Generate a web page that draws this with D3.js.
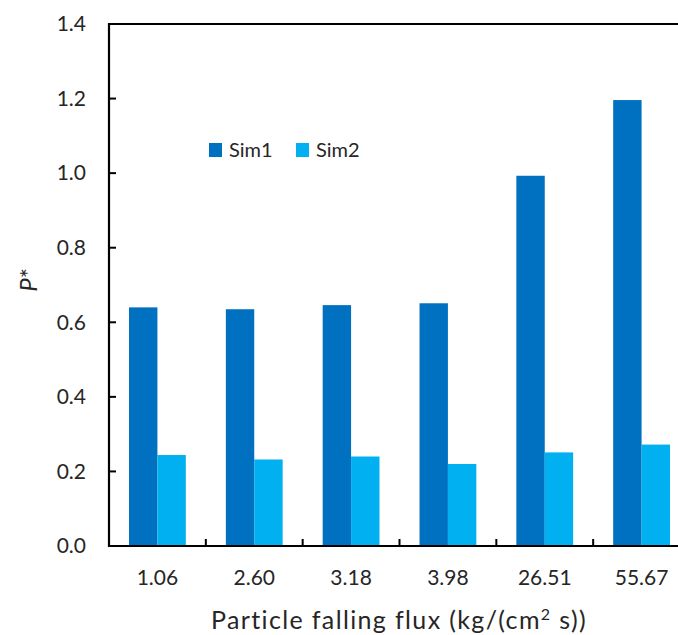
<!DOCTYPE html>
<html>
<head>
<meta charset="utf-8">
<script src="https://cdn.jsdelivr.net/npm/d3@7"></script>
<style>
  html, body { margin: 0; padding: 0; background: #fff; }
  svg { display: block; }
  text { font-family: Lato, "Open Sans", sans-serif; fill: #262626; }
</style>
</head>
<body>
<svg id="chart" width="678" height="635"></svg>
<script>
// Particle falling flux categories and P* values per simulation
const categories = ["1.06", "2.60", "3.18", "3.98", "26.51", "55.67"];
const seriesNames = ["Sim1", "Sim2"];
const sim1 = [0.640, 0.635, 0.646, 0.651, 0.993, 1.196];
const sim2 = [0.244, 0.232, 0.240, 0.220, 0.251, 0.272];
const yTicks = [0.0, 0.2, 0.4, 0.6, 0.8, 1.0, 1.2, 1.4];
const colors = ["#0070C0", "#00B0F0"];

const svg = d3.select("#chart");
const margin = { left: 109, top: 24, right: -12, bottom: 89 };
const W = 678, H = 635;
const x0 = margin.left, x1 = W - margin.right;
const y0 = H - margin.bottom, y1 = margin.top;
const FONT = "Lato, 'Open Sans', sans-serif";

const x = d3.scaleBand().domain(categories).range([x0, x1]).paddingInner(0).paddingOuter(0);
const xs = d3.scaleBand().domain(seriesNames).range([0, x.bandwidth()]).paddingInner(0).paddingOuter(0.705);
const y = d3.scaleLinear().domain([0, 1.4]).range([y0, y1]);

const rows = categories.map((c, i) => ({ cat: c, vals: [sim1[i], sim2[i]] }));

// bars
const g = svg.append("g");
rows.forEach(r => {
  g.selectAll(null)
    .data(r.vals.map((v, j) => ({ name: seriesNames[j], v, j })))
    .join("rect")
    .attr("x", d => x(r.cat) + xs(d.name))
    .attr("width", xs.bandwidth())
    .attr("y", d => y(d.v))
    .attr("height", d => y(0) - y(d.v))
    .attr("fill", d => colors[d.j]);
});

// y axis: ticks inward, labels on the left
const yAxis = d3.axisLeft(y).tickValues(yTicks).tickFormat(d3.format(".1f")).tickSize(0).tickPadding(23);
const ya = svg.append("g").attr("transform", `translate(${x0},0)`).call(yAxis);
ya.select(".domain").remove();
ya.selectAll("text").attr("font-size", 21).attr("fill", "#262626").attr("font-family", FONT);
svg.append("g").selectAll("line").data(yTicks.filter(t => t > 0 && t < 1.4)).join("line")
  .attr("x1", x0).attr("x2", x0 + 7)
  .attr("y1", d => y(d)).attr("y2", d => y(d))
  .attr("stroke", "#000").attr("stroke-width", 2);

// x axis: labels centered under categories, ticks at boundaries pointing up
const xAxis = d3.axisBottom(x).tickSize(0).tickPadding(24);
const xa = svg.append("g").attr("transform", `translate(0,${y0})`).call(xAxis);
xa.select(".domain").remove();
xa.selectAll("text").attr("font-size", 21).attr("fill", "#262626").attr("font-family", FONT);
svg.append("g").selectAll("line").data(categories.slice(1)).join("line")
  .attr("x1", d => x(d)).attr("x2", d => x(d))
  .attr("y1", y0).attr("y2", y0 - 7)
  .attr("stroke", "#000").attr("stroke-width", 2);

// plot frame: left, bottom, top
svg.append("path")
  .attr("d", `M${x1},${y1}H${x0}V${y0}H${x1}`)
  .attr("fill", "none").attr("stroke", "#000").attr("stroke-width", 2.2);

// axis titles
const xt = svg.append("text")
  .attr("x", 399).attr("y", 629)
  .attr("text-anchor", "middle").attr("font-size", 25);
xt.append("tspan").text("Particle falling flux (kg/(cm");
xt.append("tspan").attr("dy", -9).attr("font-size", 16).text("2");
xt.append("tspan").attr("dy", 9).text(" s))");
// spread the title to its full width
{
  const target = 375, len = xt.node().getComputedTextLength();
  const nChars = xt.text().length;
  if (len < target) xt.attr("letter-spacing", ((target - len) / (nChars - 1)).toFixed(2));
}

svg.append("text")
  .attr("transform", `translate(37,280) rotate(-90)`)
  .attr("text-anchor", "middle").attr("font-size", 24)
  .call(t => {
    t.append("tspan").attr("font-style", "italic").text("P");
    t.append("tspan").text("*");
  });

// legend
const legend = svg.append("g").attr("transform", "translate(209,143)");
seriesNames.forEach((name, i) => {
  const lg = legend.append("g").attr("transform", `translate(${i * 87},0)`);
  lg.append("rect").attr("width", 13).attr("height", 14).attr("fill", colors[i]);
  lg.append("text").attr("x", 20).attr("y", 14).attr("font-size", 20).text(name);
});
</script>
</body>
</html>
